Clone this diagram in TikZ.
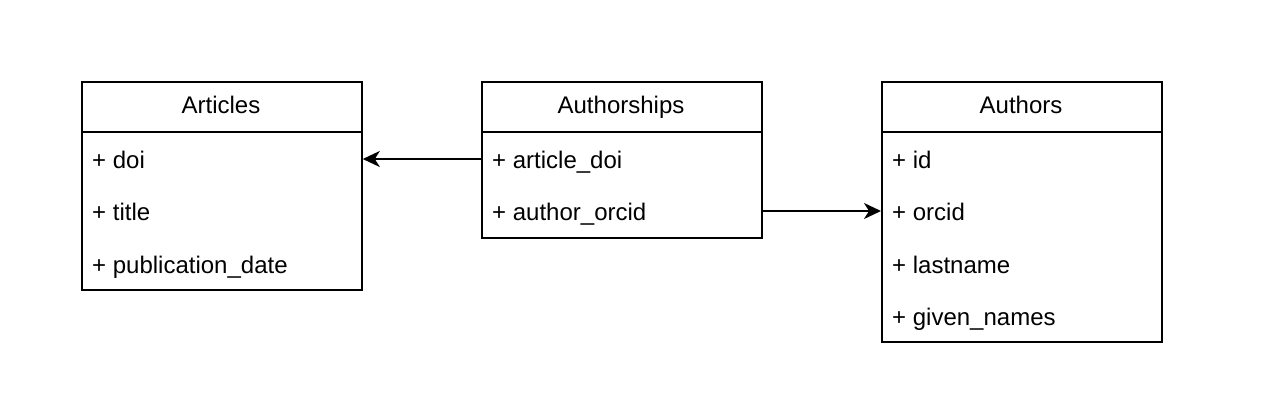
\documentclass[tikz,border=0pt]{standalone}
\usepackage{fontspec}
\setmainfont{Liberation Sans}
\usetikzlibrary{arrows.meta}
\begin{document}
\begin{tikzpicture}[x=1pt,y=-1pt,
  tablebox/.style={draw=black, line width=1.8pt, rectangle, inner sep=0pt, anchor=north west, minimum width=280pt},
  divider/.style={draw=black, line width=1.8pt},
  titletext/.style={anchor=base, inner sep=0pt, font=\fontsize{24}{29}\selectfont},
  fieldtext/.style={anchor=base west, inner sep=0pt, font=\fontsize{24}{29}\selectfont},
  conn/.style={draw=black, line width=1.8pt, -{Stealth[length=17pt, width=16pt, inset=5pt]}}
]
\useasboundingbox (0,0) rectangle (1280,400);
\fill[white] (0,0) rectangle (1280,400);

% boxes
\node[tablebox, minimum height=208pt] (art) at (81,81) {};
\node[tablebox, minimum height=156pt] (ash) at (481,81) {};
\node[tablebox, minimum height=260pt] (aut) at (881,81) {};

% header dividers
\draw[divider] ([yshift=-51pt]art.north west) -- ([yshift=-51pt]art.north east);
\draw[divider] ([yshift=-51pt]ash.north west) -- ([yshift=-51pt]ash.north east);
\draw[divider] ([yshift=-51pt]aut.north west) -- ([yshift=-51pt]aut.north east);

% titles
\node[titletext] (artT) at (221,113.3) {Articles};
\node[titletext] (ashT) at (621,113.3) {Authorships};
\node[titletext] (autT) at (1021,113.3) {Authors};

% fields
\node[fieldtext] (art1) at (92,168.3) {+ doi};
\node[fieldtext] (art2) at (92,220.8) {+ title};
\node[fieldtext] (art3) at (92,273.3) {+ publication\_date};

\node[fieldtext] (ash1) at (492,168.3) {+ article\_doi};
\node[fieldtext] (ash2) at (492,220.8) {+ author\_orcid};

\node[fieldtext] (aut1) at (892,168.3) {+ id};
\node[fieldtext] (aut2) at (892,220.8) {+ orcid};
\node[fieldtext] (aut3) at (892,273.3) {+ lastname};
\node[fieldtext] (aut4) at (892,325.8) {+ given\_names};

% connector rows
\coordinate (row1) at (0,159);
\coordinate (row2) at (0,211);

\draw[conn] (ash.west |- row1) -- (art.east |- row1);
\draw[conn] (ash.east |- row2) -- (aut.west |- row2);
\end{tikzpicture}
\end{document}
